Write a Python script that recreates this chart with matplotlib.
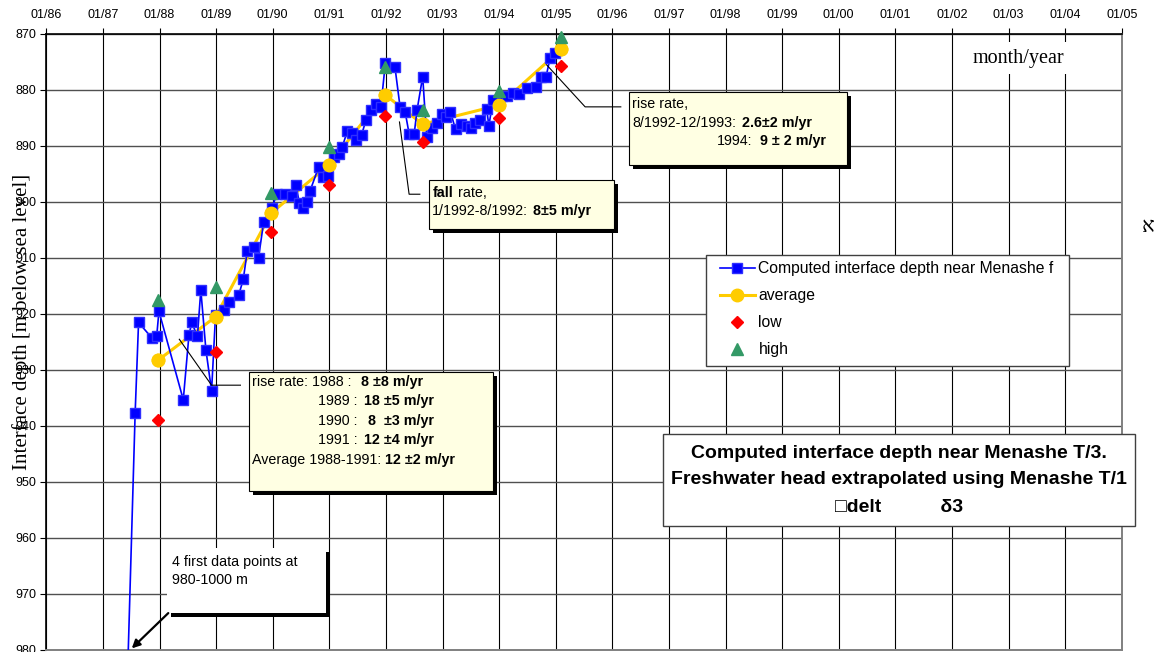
import matplotlib.pyplot as plt
from matplotlib.patches import Rectangle

plt.rcParams['font.family'] = ['Liberation Sans', 'DejaVu Sans']

# computed interface depth near Menashe T/3 (decimal year, m below sea level)
comp_year = [1987.17, 1987.25, 1987.33, 1987.42,
             1987.57, 1987.63, 1987.86, 1987.95, 1987.99, 1988.42, 1988.52, 1988.57,
             1988.67, 1988.73, 1988.82, 1988.92, 1988.99, 1989.14, 1989.23, 1989.40,
             1989.48, 1989.55, 1989.67, 1989.75, 1989.84, 1989.99, 1990.07, 1990.22,
             1990.34, 1990.41, 1990.47, 1990.54, 1990.60, 1990.66, 1990.81, 1990.89,
             1990.98, 1991.08, 1991.17, 1991.23, 1991.32, 1991.40, 1991.48, 1991.57,
             1991.65, 1991.74, 1991.83, 1991.91, 1991.99, 1992.16, 1992.25, 1992.34,
             1992.41, 1992.50, 1992.55, 1992.65, 1992.72, 1992.81, 1992.90, 1992.99,
             1993.07, 1993.14, 1993.23, 1993.32, 1993.43, 1993.50, 1993.57, 1993.66,
             1993.78, 1993.82, 1993.89, 1994.05, 1994.14, 1994.25, 1994.35, 1994.49,
             1994.65, 1994.74, 1994.83, 1994.90, 1994.99]
comp_depth = [986.0, 996.0, 999.0, 990.0,
              937.7, 921.6, 924.3, 924.1, 919.6, 935.4, 923.9, 921.6,
              924.1, 915.8, 926.5, 933.8, 920.3, 919.4, 917.9, 916.7,
              913.9, 908.9, 908.1, 910.0, 903.7, 901.1, 898.7, 898.7,
              899.1, 897.1, 900.2, 901.2, 900.0, 898.1, 893.9, 895.6,
              895.4, 892.0, 891.6, 890.2, 887.4, 887.7, 889.0, 888.1,
              885.4, 883.7, 882.5, 883.2, 875.3, 876.0, 883.1, 884.0,
              887.9, 887.9, 883.7, 877.7, 888.4, 886.8, 886.0, 884.3,
              884.9, 884.0, 887.1, 886.2, 886.6, 886.8, 885.9, 885.4,
              883.5, 886.5, 881.9, 881.2, 881.2, 880.7, 880.8, 879.8,
              879.5, 877.7, 877.7, 874.4, 873.5]

# yearly statistics
stat_year = [1987.98, 1988.99, 1989.97, 1990.99, 1991.98, 1992.65, 1994.00, 1995.10]
avg_depth = [928.3, 920.6, 902.1, 893.5, 880.9, 886.2, 882.8, 872.8]
low_depth = [939.0, 926.9, 905.5, 897.1, 884.7, 889.3, 885.0, 875.8]
high_depth = [917.5, 915.2, 898.5, 890.3, 876.0, 883.7, 880.2, 870.7]

year_ticks = list(range(1986, 2006))
year_labels = [f"01/{y % 100:02d}" for y in year_ticks]
depth_ticks = list(range(870, 990, 10))

W, H = 1166, 652
fig = plt.figure(figsize=(W / 100, H / 100), dpi=100)
ax = fig.add_axes([46.3 / W, 1 - 649.5 / H, 1075.4 / W, 616 / H])
ax.set_xlim(1986, 2005)
ax.set_ylim(980, 870)

ax.xaxis.tick_top()
ax.set_xticks(year_ticks)
ax.set_xticklabels(year_labels)
ax.set_yticks(depth_ticks)
ax.tick_params(axis='x', direction='out', length=4, width=0.8, pad=5, labelsize=9)
ax.tick_params(axis='y', direction='out', length=4, width=0.8, pad=3, labelsize=9)
ax.set_axisbelow(True)
ax.grid(axis='x', color='black', lw=0.8)
ax.grid(axis='y', color='#505050', lw=1.0)
for side in ['top', 'left']:
    ax.spines[side].set_linewidth(1.2)
for side in ['right', 'bottom']:
    ax.spines[side].set_color('#808080')
    ax.spines[side].set_linewidth(1.4)

# series
ax.plot(comp_year, comp_depth, color='#0000FF', lw=1.2, marker='s', ms=6.5,
        mfc='#0000FF', mec='#2F2FFF', zorder=3,
        label='Computed interface depth near Menashe f')
ax.plot(stat_year, avg_depth, color='#FFCC00', lw=2.2, marker='o', ms=9,
        zorder=2.5, label='average')
ax.plot(stat_year, avg_depth, ls='none', marker='o', ms=9, color='#FFCC00', zorder=4)
ax.plot(stat_year, low_depth, ls='none', marker='D', ms=6.5, color='#FF0000',
        zorder=4, label='low')
ax.plot(stat_year, high_depth, ls='none', marker='^', ms=9, color='#339966',
        zorder=4, clip_on=False, label='high')

# legend: plain frame drawn behind a frameless legend
ax.add_patch(Rectangle((706 / W, 1 - 366 / H), 363 / W, 111 / H, transform=fig.transFigure,
                       facecolor='white', edgecolor='#404040', lw=1.0, zorder=6,
                       clip_on=False))
leg = ax.legend(loc='upper left', bbox_to_anchor=(720 / W, 1 - 261 / H),
                bbox_transform=fig.transFigure, borderaxespad=0, borderpad=0,
                frameon=False, fontsize=11.3, handlelength=2.2, handletextpad=0.25,
                labelspacing=0.77)
leg.set_zorder(7)


def note_box(x0, x1, d0, d1, face, edge=True):
    ax.add_patch(Rectangle((x0 + 0.07, d0 + 0.7), x1 - x0, d1 - d0, facecolor='black',
                           edgecolor='none', zorder=5))
    ax.add_patch(Rectangle((x0, d0), x1 - x0, d1 - d0, facecolor=face,
                           edgecolor='black' if edge else 'none', lw=0.8, zorder=5))


def run(x, d, s, bold=False):
    ax.text(x, d, s, fontsize=10.3, ha='left', va='center', zorder=6,
            fontweight='bold' if bold else 'normal')


note_fill = '#FFFFE3'

# rise rate 1988-1991
note_box(1989.59, 1993.89, 930.4, 951.7, note_fill)
ax.plot([1989.43, 1988.92, 1988.35], [932.8, 932.8, 924.6], color='black', lw=0.8, zorder=4.5)
run(1989.64, 932.2, 'rise rate: 1988 :')
run(1991.56, 932.2, '8 ±8 m/yr', True)
run(1990.80, 935.6, '1989 :')
run(1991.62, 935.6, '18 ±5 m/yr', True)
run(1990.80, 939.2, '1990 :')
run(1991.68, 939.2, '8  ±3 m/yr', True)
run(1990.80, 942.6, '1991 :')
run(1991.62, 942.6, '12 ±4 m/yr', True)
run(1989.64, 946.2, 'Average 1988-1991:')
run(1991.98, 946.2, '12 ±2 m/yr', True)

# fall rate 1992
note_box(1992.76, 1996.03, 896.2, 904.9, note_fill)
ax.plot([1992.60, 1992.41, 1992.24], [898.7, 898.7, 885.8], color='black', lw=0.8, zorder=4.5)
run(1992.82, 898.4, 'fall', True)
run(1993.28, 898.4, 'rate,')
run(1992.82, 901.7, '1/1992-8/1992:')
run(1994.60, 901.7, '8±5 m/yr', True)

# rise rate 1992-1994
note_box(1996.30, 2000.14, 880.5, 893.5, note_fill)
ax.plot([1996.15, 1995.52, 1994.84], [883.1, 883.1, 875.6], color='black', lw=0.8, zorder=4.5)
run(1996.35, 882.5, 'rise rate,')
run(1996.35, 885.9, '8/1992-12/1993:')
run(1998.29, 885.9, '2.6±2 m/yr', True)
run(1997.85, 889.2, '1994:')
run(1998.61, 889.2, '9 ± 2 m/yr', True)

# first points off scale
note_box(1988.13, 1990.94, 961.9, 973.5, 'white', edge=False)
run(1988.22, 964.3, '4 first data points at')
run(1988.22, 967.6, '980-1000 m')
ax.annotate('', xy=(1987.51, 979.8), xytext=(1988.155, 973.5),
            arrowprops=dict(arrowstyle='-|>', color='black', lw=1.6, mutation_scale=12,
                            shrinkA=0, shrinkB=0), zorder=6)

# title box
ax.add_patch(Rectangle((1996.89, 941.5), 8.34, 16.45, facecolor='white', edgecolor='#404040',
                       lw=1.0, zorder=6, clip_on=False))
title_lines = ['Computed interface depth near Menashe T/3.',
               'Freshwater head extrapolated using Menashe T/1',
               '\u25a1delt           \u03b43']
for d, s in zip([945.0, 949.6, 954.6], title_lines):
    ax.text(2001.07, d, s, fontsize=14, fontweight='bold', ha='center', va='center',
            zorder=7, clip_on=False)

ax.text(2003.17, 874.4, 'month/year', family='Liberation Serif', fontsize=14.5,
        ha='center', va='center', zorder=4,
        bbox=dict(facecolor='white', edgecolor='none', pad=5))

fig.text(22.5 / W, 1 - 322 / H, 'Interface depth [m below sea level]',
         family='Liberation Serif', fontsize=15, rotation=90, ha='center', va='center')
fig.text(1148 / W, 1 - 227 / H, '\u05d0', family=['Liberation Serif', 'DejaVu Sans'],
         fontsize=15, ha='center', va='center')

fig.savefig('out.png', dpi=100)
